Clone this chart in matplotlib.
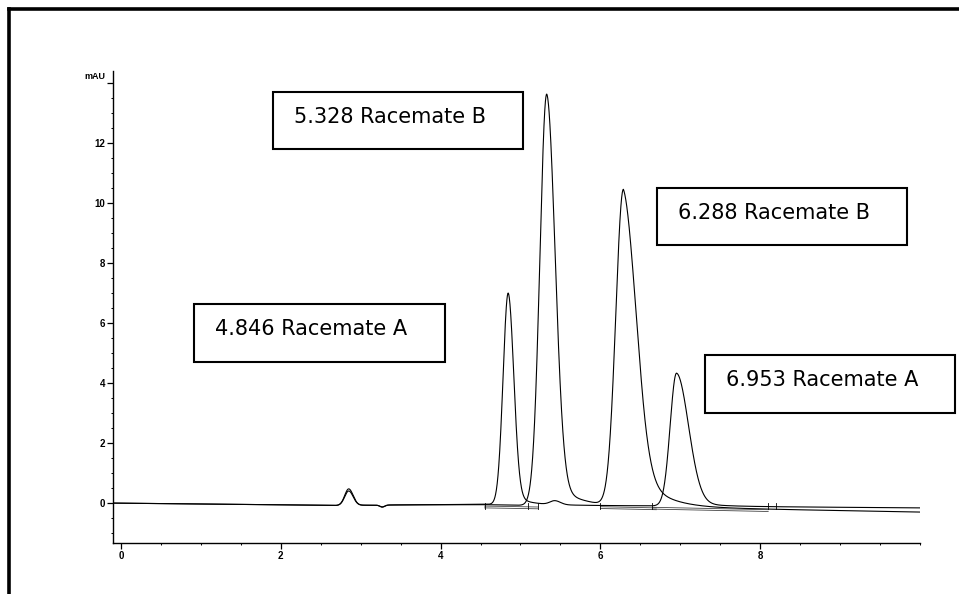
import matplotlib
matplotlib.use("Agg")
import matplotlib.pyplot as plt
import numpy as np
from matplotlib.patches import Rectangle
from matplotlib.lines import Line2D

# Data (time in min, signal in mAU)
# Racemate A run
a_rt = [2.85, 3.27, 4.846, 5.43, 6.953]
a_height = [0.55, -0.07, 7.05, 0.13, 4.43]
a_sig_left = [0.05, 0.03, 0.064, 0.06, 0.08]
a_sig_right = [0.055, 0.03, 0.07, 0.07, 0.15]
a_tail = [0.0, 0.0, 0.06, 0.0, 0.05]
a_tau = [0.1, 0.1, 0.18, 0.1, 0.3]

# Racemate B run
b_rt = [2.85, 3.27, 5.328, 6.288, 6.47]
b_height = [0.48, -0.06, 13.72, 10.55, 0.08]
b_sig_left = [0.05, 0.03, 0.085, 0.095, 0.04]
b_sig_right = [0.055, 0.03, 0.105, 0.16, 0.04]
b_tail = [0.0, 0.0, 0.07, 0.2, 0.0]
b_tau = [0.1, 0.1, 0.3, 0.3, 0.1]

# baseline drift
base_t = [-0.1, 2.7, 3.5, 4.5, 6.0, 8.0, 10.02]
base_a = [0.0, -0.08, -0.06, -0.04, -0.08, -0.12, -0.16]
base_b = [0.0, -0.08, -0.06, -0.05, -0.12, -0.20, -0.30]

# integration baselines drawn by the data system
int_x0 = [4.55, 6.0, 6.65]
int_x1 = [5.22, 6.7, 8.1]
int_y0 = [-0.10, -0.12, -0.14]
int_y1 = [-0.13, -0.16, -0.22]
int_marks = [4.55, 5.1, 5.22, 6.0, 6.65, 8.1, 8.2]

peak_labels = ["5.328 Racemate B", "6.288 Racemate B", "4.846 Racemate A", "6.953 Racemate A"]


def trace(t, base, rt, h, sl, sr, tail, tau):
    y = np.interp(t, base_t, base)
    for r, hh, s1, s2, f, ta in zip(rt, h, sl, sr, tail, tau):
        d = t - r
        left = np.exp(-0.5 * (d / s1) ** 2)
        right = (1 - f) * np.exp(-0.5 * (d / s2) ** 2) + f * np.exp(-np.clip(d, 0, None) / ta)
        y = y + hh * np.where(d < 0, left, right)
    return y


t = np.arange(-0.1, 10.02, 0.002)
ya = trace(t, base_a, a_rt, a_height, a_sig_left, a_sig_right, a_tail, a_tau)
yb = trace(t, base_b, b_rt, b_height, b_sig_left, b_sig_right, b_tail, b_tau)

W, H = 959, 594
fig = plt.figure(figsize=(W / 100, H / 100), dpi=100)
ax = fig.add_axes([113 / W, 1 - 543 / H, (920 - 113) / W, (543 - 71) / H])

ax.plot(t, ya, color="black", lw=0.8)
ax.plot(t, yb, color="black", lw=0.8)

for x0, x1, y0, y1 in zip(int_x0, int_x1, int_y0, int_y1):
    ax.plot([x0, x1], [y0, y1], color="#444444", lw=0.6)
    ax.plot([x0, x1], [y0 - 0.06, y1 - 0.06], color="#444444", lw=0.6)
for m in int_marks:
    ax.plot([m, m], [-0.2, 0.0], color="black", lw=0.6)

ax.set_xlim(-0.1, 10.0)
ax.set_ylim(-1.33, 14.4)
ax.spines["top"].set_visible(False)
ax.spines["right"].set_visible(False)
ax.spines["left"].set_linewidth(1.0)
ax.spines["bottom"].set_linewidth(1.0)

ax.set_xticks([0, 2, 4, 6, 8])
ax.set_xticks(np.arange(0, 10.01, 0.5), minor=True)
ax.set_yticks([0, 2, 4, 6, 8, 10, 12, 14])
ax.set_yticklabels(["0", "2", "4", "6", "8", "10", "12", ""])
ax.set_yticks(np.arange(-1.0, 14.01, 0.5), minor=True)
ax.tick_params(which="major", length=4, width=0.9, pad=1.5)
ax.tick_params(which="minor", length=1.5, width=0.7)
for lab in ax.get_xticklabels() + ax.get_yticklabels():
    lab.set_fontfamily("Liberation Sans")
    lab.set_fontweight("bold")
    lab.set_fontsize(7)
ax.text(-0.2, 14.22, "mAU", ha="right", va="center", fontsize=6.5, fontweight="bold",
        family="Liberation Sans")

# label boxes, in pixel positions (left, top, right, bottom)
boxes = [(273, 92, 523, 149), (657, 188, 907, 245), (194, 304, 445, 362), (705, 355, 955, 413)]
for (l, tp, r, b), txt in zip(boxes, peak_labels):
    fig.add_artist(Rectangle((l / W, 1 - b / H), (r - l) / W, (b - tp) / H,
                             transform=fig.transFigure, fill=False, ec="black", lw=1.5))
    fig.text((l + 21) / W, 1 - (tp + 31) / H, txt, fontsize=15, family="DejaVu Sans",
             va="baseline", ha="left")

# outer frame (top and left only)
fig.add_artist(Line2D([9 / W, 1.0], [1 - 9 / H, 1 - 9 / H], transform=fig.transFigure,
                      color="black", lw=2.6))
fig.add_artist(Line2D([9 / W, 9 / W], [0.0, 1 - 9 / H], transform=fig.transFigure,
                      color="black", lw=2.6))

fig.savefig("out.png", dpi=100)
